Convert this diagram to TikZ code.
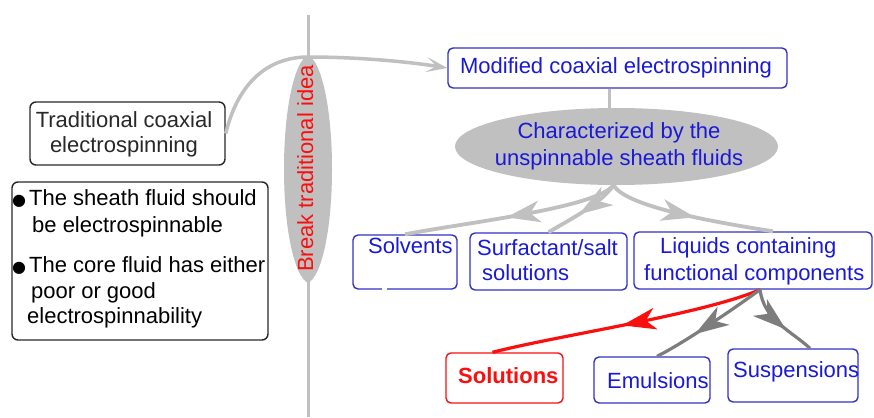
\documentclass[tikz,border=0pt]{standalone}
\usepackage{fontspec}
\setmainfont{Liberation Sans}
\newfontfamily\dejavufam{DejaVu Sans}
\usetikzlibrary{arrows.meta,decorations.markings,shapes.geometric}
\definecolor{bluebox}{RGB}{50,50,200}
\definecolor{bluetext}{RGB}{25,25,215}
\definecolor{lgray}{RGB}{192,192,192}
\definecolor{dgray}{RGB}{125,125,125}
\definecolor{redc}{RGB}{250,15,15}
\definecolor{darkline}{RGB}{40,40,40}
\newcommand\bulletmark{\makebox[16pt][l]{\hspace*{-1pt}\raisebox{0pt}{\dejavufam\fontsize{16}{16}\selectfont ●}}}
\begin{document}
\begin{tikzpicture}[x=1pt,y=-1pt,
  fnt/.style={font=\fontsize{22}{27}\selectfont, inner sep=0pt},
  bluebx/.style={draw=bluebox, line width=1.4pt, rounded corners=5pt, inner sep=0pt},
  blackbx/.style={draw=darkline, line width=1.4pt, rounded corners=6pt, inner sep=0pt},
  redbx/.style={draw=redc, line width=1.4pt, rounded corners=5pt, inner sep=0pt},
  toparrow/.style={draw=lgray, line width=3.5pt, -{Stealth[length=21pt,width=15pt,inset=10pt]}},
  midarrow/.style 2 args={postaction={decorate}, decoration={markings, mark=at position #1 with {\fill[#2] (5pt,0pt) -- (-29pt,11pt) -- (-19pt,0pt) -- (-29pt,-11pt) -- cycle;}}},
  upperlink/.style={draw=lgray, line width=3.8pt},
  lowerlink/.style={draw=dgray, line width=3.2pt},
  redlink/.style={draw=redc, line width=3.2pt}
]
\fill[white] (0,0) rectangle (874,417);
\useasboundingbox (0,0) rectangle (874,417);

% vertical divider
\coordinate (vtop) at (308,15);
\coordinate (vbot) at (308,417);
\draw[lgray, line width=3pt] (vtop) -- (vbot);
% spindle
\fill[lgray] (308,55) .. controls (322,62) and (332,110) .. (332,169)
  .. controls (332,228) and (322,276) .. (308,283)
  .. controls (294,276) and (284,228) .. (284,169)
  .. controls (284,110) and (294,62) .. (308,55);
\node[fnt, text=redc, rotate=90, anchor=base] (brk) at (313,168.5) {Break traditional idea};

% boxes
\node[blackbx, minimum width=195, minimum height=63] (trad) at (127.5,133.5) {};
\node[blackbx, minimum width=256, minimum height=158] (cond) at (140,261) {};
\node[bluebx, minimum width=339, minimum height=40] (mod) at (617.5,68) {};
\node[ellipse, fill=lgray, minimum width=323, minimum height=77, inner sep=0pt] (char) at (616.5,146.5) {};
\node[bluebx, minimum width=104, minimum height=54] (solv) at (405,262) {};
\node[bluebx, minimum width=157, minimum height=57] (surf) at (548.5,261.5) {};
\node[bluebx, minimum width=238, minimum height=57] (liq) at (753,260.5) {};
\node[redbx, minimum width=117, minimum height=50] (sol) at (504.5,378) {};
\node[bluebx, minimum width=116, minimum height=46] (emu) at (652,380) {};
\node[bluebx, minimum width=130, minimum height=53] (susp) at (793,375.5) {};
\fill[white] (382,286) rectangle (387,292);

% texts
\node[fnt, text=darkline, align=center, anchor=north] (tradtxt) at (124,111) {Traditional coaxial\\[-2pt]electrospinning};
\node[fnt, text=black, align=left, anchor=north west] (condtxt) at (13,189) {\bulletmark The sheath fluid should\\
\hspace*{19pt}be electrospinnable\\[13pt]
\bulletmark The core fluid has either\\[-1pt]
\hspace*{18pt}poor or good\\[-2pt]
\hspace*{14pt}electrospinnability};
\node[fnt, text=bluetext, anchor=base] (modtxt) at (616,74) {Modified coaxial electrospinning};
\node[fnt, text=bluetext, align=center, anchor=north] (chartxt) at (619,122) {Characterized by the\\unspinnable sheath fluids};
\node[fnt, text=bluetext, anchor=base west] (solvtxt) at (368,253) {Solvents};
\node[fnt, text=bluetext, align=left, anchor=north west] (surftxt) at (477,239) {Surfactant/salt\\[-2pt]\hspace*{5pt}solutions};
\node[fnt, text=bluetext, align=left, anchor=north west] (liqtxt) at (644,237) {\hspace*{16pt}Liquids containing\\functional components};
\node[fnt, text=redc, anchor=base west, font=\fontsize{22}{27}\selectfont\bfseries] (soltxt) at (458,383) {Solutions};
\node[fnt, text=bluetext, anchor=base west] (emutxt) at (607,388) {Emulsions};
\node[fnt, text=bluetext, anchor=base west] (susptxt) at (733,377) {Suspensions};

% connectors
\draw[toparrow] (trad.east) .. controls (240,75) and (275,57) .. (308,57)
  .. controls (360,57) and (410,62) .. (mod.west);
\draw[upperlink] ([xshift=-8pt]mod.south) -- ([xshift=-8pt]mod.south |- char.north);
\draw[upperlink, midarrow={0.5}{lgray}] ([xshift=-3pt]char.south) .. controls (595,208) and (470,222) .. (solv.north);
\draw[upperlink, midarrow={0.5}{lgray}] ([xshift=-3pt]char.south) .. controls (600,205) and (565,222) .. (surf.north);
\draw[upperlink, midarrow={0.5}{lgray}] ([xshift=-3pt]char.south) .. controls (625,205) and (700,220) .. ([xshift=20pt]liq.north);
\draw[redlink, midarrow={0.5}{redc}] ([xshift=7pt]liq.south) .. controls (700,315) and (560,335) .. ([xshift=-12pt]sol.north);
\draw[lowerlink, midarrow={0.6}{dgray}] ([xshift=7pt]liq.south) .. controls (725,315) and (680,345) .. ([xshift=5pt]emu.north);
\draw[lowerlink, midarrow={0.55}{dgray}] ([xshift=7pt]liq.south) .. controls (764,320) and (790,330) .. ([xshift=17pt]susp.north);
\end{tikzpicture}
\end{document}
